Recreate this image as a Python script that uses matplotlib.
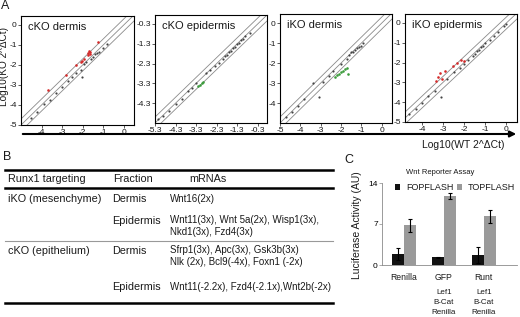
import numpy as np
import matplotlib
matplotlib.use("Agg")
import matplotlib.pyplot as plt
from matplotlib.lines import Line2D
from matplotlib.patches import FancyArrowPatch

plt.rcParams["font.family"] = ["Liberation Sans", "DejaVu Sans"]
plt.rcParams["text.color"] = "#1a1a1a"

W, H = 520, 317

# ---- panel A: qPCR scatter data (log10 2^dCt) ----
panel_titles = ["cKO dermis", "cKO epidermis", "iKO dermis", "iKO epidermis"]

cko_derm_grey_x = [-4.5, -4.2, -3.9, -3.6, -3.3, -3.0, -2.7, -2.5, -2.3, -2.1, -2.05,
                   -1.95, -1.85, -1.6, -1.5, -1.4, -1.3, -1.2, -1.0, -0.8]
cko_derm_grey_y = [-4.65, -4.35, -3.95, -3.75, -3.4, -3.1, -2.8, -2.6, -2.4, -2.25, -2.6,
                   -1.95, -1.85, -1.7, -1.6, -1.45, -1.4, -1.35, -1.15, -0.95]
cko_derm_red_x = [-3.7, -2.8, -2.3, -2.1, -2.05, -1.95, -1.75, -1.72, -1.7, -1.66, -1.62, -1.25]
cko_derm_red_y = [-3.25, -2.5, -2.0, -1.85, -1.8, -1.7, -1.5, -1.4, -1.3, -1.35, -1.45, -0.85]

cko_epi_grey_x = [-5.15, -4.9, -4.6, -4.3, -4.0, -3.7, -3.5, -3.3, -2.8, -2.6, -2.4, -2.2,
                  -2.0, -1.9, -1.8, -1.7, -1.6, -1.5, -1.4, -1.3, -1.2, -1.1, -1.0, -0.9, -0.7]
cko_epi_grey_y = [-5.1, -4.95, -4.7, -4.35, -4.1, -3.7, -3.55, -3.3, -2.8, -2.65, -2.4, -2.25,
                  -2.05, -1.9, -1.85, -1.7, -1.65, -1.5, -1.45, -1.3, -1.25, -1.1, -1.05, -0.9, -0.75]
cko_epi_green_x = [-3.2, -3.1, -3.02, -2.95]
cko_epi_green_y = [-3.45, -3.38, -3.3, -3.22]

iko_derm_grey_x = [-4.7, -4.4, -4.1, -3.8, -3.4, -3.1, -2.9, -2.6, -2.4, -2.0, -1.7, -1.6,
                   -1.5, -1.4, -1.3, -1.2, -1.1, -1.0, -0.9]
iko_derm_grey_y = [-4.7, -4.45, -4.15, -3.8, -3.0, -3.7, -2.95, -2.65, -2.4, -2.05, -1.8, -1.6,
                   -1.45, -1.45, -1.35, -1.25, -1.2, -1.15, -1.0]
iko_derm_green_x = [-2.3, -2.2, -2.1, -2.0, -1.9, -1.8, -1.7, -1.65]
iko_derm_green_y = [-2.7, -2.6, -2.55, -2.45, -2.4, -2.3, -2.25, -2.55]

iko_epi_grey_x = [-4.6, -4.3, -4.0, -3.7, -3.4, -3.1, -2.8, -2.5, -2.2, -2.0, -1.8, -1.6,
                  -1.5, -1.4, -1.3, -1.2, -1.1, -1.0, -0.8, -0.6, -0.4, -0.1, 0.0]
iko_epi_grey_y = [-4.6, -4.35, -4.05, -3.7, -3.45, -3.75, -2.85, -2.5, -2.3, -2.05, -1.85, -1.65,
                  -1.55, -1.4, -1.35, -1.2, -1.15, -1.0, -0.85, -0.65, -0.45, -0.15, -0.05]
iko_epi_red_x = [-3.35, -3.25, -3.15, -3.05, -2.9, -2.55, -2.35, -2.15, -2.0]
iko_epi_red_y = [-2.95, -2.75, -2.55, -2.85, -2.45, -2.15, -2.0, -1.85, -1.9]

# ---- panel C: Wnt reporter assay ----
groups = ["Renilla", "GFP", "Runt"]
sublabels = [[], ["Lef1", "B-Cat", "Renilla"], ["Lef1", "B-Cat", "Renilla"]]
fopflash = [1.85, 1.35, 1.7]
fopflash_err = [1.05, 0.1, 1.3]
topflash = [6.8, 11.8, 8.3]
topflash_err = [1.1, 0.5, 1.1]

# ---- panel B: table ----
table_header = ["Runx1 targeting", "Fraction", "mRNAs"]
table_targeting = ["iKO (mesenchyme)", "", "cKO (epithelium)", ""]
table_fraction = ["Dermis", "Epidermis", "Dermis", "Epidermis"]
table_mrnas = ["Wnt16(2x)",
               "Wnt11(3x), Wnt 5a(2x), Wisp1(3x),\nNkd1(3x), Fzd4(3x)",
               "Sfrp1(3x), Apc(3x), Gsk3b(3x)\nNlk (2x), Bcl9(-4x), Foxn1 (-2x)",
               "Wnt11(-2.2x), Fzd4(-2.1x),Wnt2b(-2x)"]


def px_axes(fig, left, top, right, bottom):
    return fig.add_axes([left / W, 1 - bottom / H, (right - left) / W, (bottom - top) / H])


def fx(x):
    return x / W


def fy(y):
    return 1 - y / H


fig = plt.figure(figsize=(W / 100, H / 100), dpi=100)

scatter_specs = [
    # box px, xlim, ylim, xticks, yticks, grey, colored, colour
    ((21, 16, 134, 125), (-5, 0.5), (-5, 0.45), [-4, -3, -2, -1, 0], [-5, -4, -3, -2, -1, 0],
     (cko_derm_grey_x, cko_derm_grey_y), (cko_derm_red_x, cko_derm_red_y), "#d42a2a"),
    ((155, 15, 267, 123), (-5.3, 0.15), (-5.3, 0.15), [-5.3, -4.3, -3.3, -2.3, -1.3, -0.3],
     [-4.3, -3.3, -2.3, -1.3, -0.3],
     (cko_epi_grey_x, cko_epi_grey_y), (cko_epi_green_x, cko_epi_green_y), "#3c9c3c"),
    ((280, 14, 392, 123), (-5, 0.5), (-5, 0.45), [-5, -4, -3, -2, -1, 0], [-4, -3, -2, -1, 0],
     (iko_derm_grey_x, iko_derm_grey_y), (iko_derm_green_x, iko_derm_green_y), "#3c9c3c"),
    ((405, 14, 517, 122), (-4.8, 0.5), (-5, 0.45), [-4, -3, -2, -1, 0], [-5, -4, -3, -2, -1, 0],
     (iko_epi_grey_x, iko_epi_grey_y), (iko_epi_red_x, iko_epi_red_y), "#d42a2a"),
]

for title, spec in zip(panel_titles, scatter_specs):
    box, xl, yl, xt, yt, grey, col, colour = spec
    ax = px_axes(fig, *box)
    for off in (-0.3, 0.0, 0.3):
        ax.axline((0, off), slope=1, color="#8a8a8a", lw=0.6)
    ax.scatter(grey[0], grey[1], s=2.5, color="#444444", lw=0, zorder=3)
    ax.scatter(col[0], col[1], s=3.5, color=colour, lw=0, zorder=4)
    ax.set_xlim(*xl)
    ax.set_ylim(*yl)
    ax.set_xticks(xt)
    ax.set_yticks(yt)
    ax.set_xticklabels([f"{v:g}" for v in xt])
    ax.set_yticklabels([f"{v:g}" for v in yt])
    ax.tick_params(labelsize=6, length=2, width=0.5, pad=1, colors="#1a1a1a")
    for s in ax.spines.values():
        s.set_linewidth(0.8)
    ax.text(0.06, 0.9, title, transform=ax.transAxes, fontsize=8, va="center", ha="left")

fig.text(fx(5), fy(6), "A", fontsize=9, ha="center", va="center")
fig.text(fx(4.5), fy(66), "Log10(KO 2^\u0394Ct)", rotation=90, fontsize=7.2, ha="center", va="center")
fig.add_artist(FancyArrowPatch((fx(20), fy(134)), (fx(519), fy(134)), transform=fig.transFigure,
                               arrowstyle="-|>", mutation_scale=9, lw=1.5, color="black"))
fig.text(fx(463), fy(145), "Log10(WT 2^\u0394Ct)", fontsize=7.5, ha="center", va="center")

# ---- panel B ----
fig.text(fx(7), fy(157), "B", fontsize=9, ha="center", va="center")
for y, lw, c in [(170, 1.8, "black"), (188, 1.8, "black"), (241, 0.8, "#999999"), (303, 1.8, "black")]:
    fig.add_artist(Line2D([fx(5), fx(333)], [fy(y), fy(y)], lw=lw, color=c, transform=fig.transFigure))
fig.text(fx(8), fy(179), table_header[0], fontsize=7.8, va="center")
fig.text(fx(113), fy(179), table_header[1], fontsize=7.8, va="center")
fig.text(fx(208), fy(179), table_header[2], fontsize=7.8, va="center", ha="center")
row_y = [199, 226, 256, 287]
for y, tg, fr, mr in zip(row_y, table_targeting, table_fraction, table_mrnas):
    first_y = y - 5.5 if "\n" in mr else y
    fig.text(fx(8), fy(first_y), tg, fontsize=7.8, va="center")
    fig.text(fx(112), fy(first_y), fr, fontsize=7.8, va="center")
    fig.text(fx(170), fy(y), mr, fontsize=7, va="center", linespacing=1.15)

# ---- panel C ----
fig.text(fx(349), fy(160), "C", fontsize=9, ha="center", va="center")
axc = px_axes(fig, 382, 183, 517, 265)
x = np.arange(len(groups))
ekw = dict(ecolor="black", elinewidth=0.8, capsize=1.6, capthick=0.8)
axc.bar(x - 0.15, fopflash, 0.3, yerr=fopflash_err, color="#111111", error_kw=ekw, label="FOPFLASH")
axc.bar(x + 0.15, topflash, 0.3, yerr=topflash_err, color="#9a9a9a", error_kw=ekw, label="TOPFLASH")
axc.set_xlim(-0.55, 2.83)
axc.set_ylim(0, 14)
axc.set_yticks([0, 7, 14])
axc.set_xticks([])
axc.tick_params(axis="y", labelsize=6, length=2, width=0.5, pad=1, color="#888888")
for s in ("top", "right"):
    axc.spines[s].set_visible(False)
for s in ("left", "bottom"):
    axc.spines[s].set_color("#8a8a8a")
    axc.spines[s].set_linewidth(0.6)
for i, (g, sub) in enumerate(zip(groups, sublabels)):
    axc.annotate(g, (i, fy(278)), xycoords=("data", "figure fraction"), fontsize=6.2,
                 ha="center", va="center")
    for k, line in enumerate(sub):
        axc.annotate(line, (i, fy(292 + 10.5 * k)), xycoords=("data", "figure fraction"),
                     fontsize=5.8, ha="center", va="center")
axc.legend(loc="center left", bbox_to_anchor=(fx(395), fy(188)), bbox_transform=fig.transFigure,
           ncol=2, handlelength=0.6, handleheight=0.6, handletextpad=0.6, columnspacing=0.4,
           borderpad=0, borderaxespad=0, frameon=False, fontsize=6.5)
fig.text(fx(440), fy(172), "Wnt Reporter Assay", fontsize=5.5, ha="center", va="center")
fig.text(fx(357), fy(225), "Luciferase Activity (AU)", rotation=90, fontsize=7.5,
         ha="center", va="center")

fig.savefig("out.png", dpi=100)
